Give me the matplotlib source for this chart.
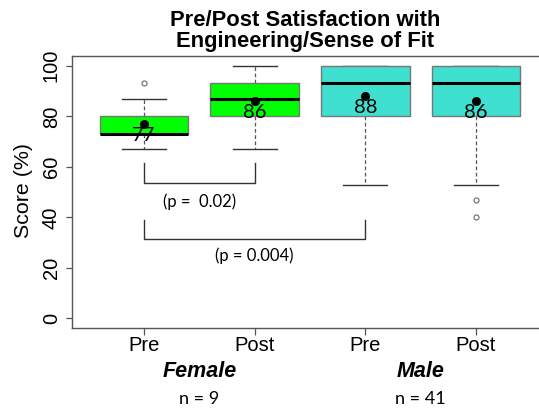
import matplotlib
matplotlib.use("Agg")
import matplotlib.pyplot as plt
import matplotlib.transforms as mtransforms

# ---- data ----
tick_labels = ["Pre", "Post", "Pre", "Post"]
groups = ["Female", "Male"]
group_n = ["n = 9", "n = 41"]
q1 = [73, 80, 80, 80]
medians = [73, 87, 93, 93]
q3 = [80, 93, 100, 100]
whislo = [67, 67, 53, 53]
whishi = [87, 100, 100, 100]
means = [77, 86, 88, 86]
fliers = [[93], [], [], [47, 40]]
box_colors = ["#00FF00", "#00FF00", "#40E0D0", "#40E0D0"]
p_labels = ["(p =  0.02)", "(p = 0.004)"]
p_pairs = [(1, 2), (1, 3)]
p_bracket_top = [61.4, 38.9]
p_bracket_bottom = [53.5, 31.3]
p_text_y = [46.2, 24.7]
yticks = [0, 20, 40, 60, 80, 100]

W, H = 539, 408
fig = plt.figure(figsize=(W / 100, H / 100), dpi=100)
ax = fig.add_axes([72 / W, (H - 327.7) / H, (548 - 72) / W, (327.7 - 55.7) / H])

stats = []
for i in range(len(tick_labels)):
    stats.append(dict(q1=q1[i], med=medians[i], q3=q3[i], whislo=whislo[i],
                      whishi=whishi[i], mean=means[i], fliers=fliers[i], label=tick_labels[i]))

positions = list(range(1, len(tick_labels) + 1))
gray = "#555555"
bp = ax.bxp(stats, positions=positions, widths=0.8, patch_artist=True, showmeans=False,
            boxprops=dict(edgecolor="#777777", linewidth=1.0, zorder=3),
            medianprops=dict(color="black", linewidth=2.2, zorder=4),
            whiskerprops=dict(color=gray, linestyle=(0, (3, 2)), linewidth=0.9, zorder=2),
            capprops=dict(color="#333333", linewidth=1.0, zorder=2),
            capwidths=0.4,
            flierprops=dict(marker="o", markersize=3.6, markerfacecolor="white",
                            markeredgecolor="#777777", markeredgewidth=0.9))
for patch, c in zip(bp["boxes"], box_colors):
    patch.set_facecolor(c)

ax.plot(positions, means, "o", color="black", markersize=5.5, zorder=5, linestyle="none")
for x, m in zip(positions, means):
    ax.annotate(str(m), (x, m), xytext=(0, -8.5), textcoords="offset points",
                ha="center", va="center", fontsize=14.5, family="Lato", color="black", zorder=6)

# brackets
for (a, b), top, bot, lab, ty in zip(p_pairs, p_bracket_top, p_bracket_bottom, p_labels, p_text_y):
    ax.plot([a, a, b, b], [top, bot, bot, top], color="#333333", linewidth=1.0,
            solid_joinstyle="round")
    ax.text((a + b) / 2, ty, lab, ha="center", va="center", fontsize=12,
            family="Lato", color="black")

ax.set_xlim(0.35, 4.65)
ax.set_ylim(-3.7, 104)
ax.set_yticks(yticks)
ax.set_yticklabels([str(v) for v in yticks], rotation=90, va="center",
                   fontsize=14.5, family="Liberation Sans")
ax.set_xticks(positions)
ax.set_xticklabels(tick_labels, fontsize=14.5, family="Liberation Sans")
ax.tick_params(axis="y", length=4, width=0.9, color=gray, pad=4)
ax.tick_params(axis="x", length=5, width=0.9, color=gray, pad=1)
for s in ax.spines.values():
    s.set_color(gray)
    s.set_linewidth(1.0)

# group labels
tr = mtransforms.blended_transform_factory(ax.transData, fig.transFigure)
for gx, g, n in zip([1.5, 3.5], groups, group_n):
    ax.text(gx, 1 - 371.7 / H, g, transform=tr, ha="center", va="center", fontsize=15.5,
            family="Liberation Sans", fontweight="bold", fontstyle="italic", clip_on=False)
    ax.text(gx, 1 - 399 / H, n, transform=tr, ha="center", va="center", fontsize=13,
            family="Lato", clip_on=False)

fig.text(23.3 / W, 1 - 190.5 / H, "Score (%)", rotation=90, ha="center", va="center",
         fontsize=15.4, family="Liberation Sans")
fig.text(305 / W, 1 - 31 / H, "Pre/Post Satisfaction with\nEngineering/Sense of Fit",
         ha="center", va="center", fontsize=15.8, fontweight="bold",
         family="Liberation Sans", linespacing=1.05)

fig.savefig("out.png", dpi=100)
